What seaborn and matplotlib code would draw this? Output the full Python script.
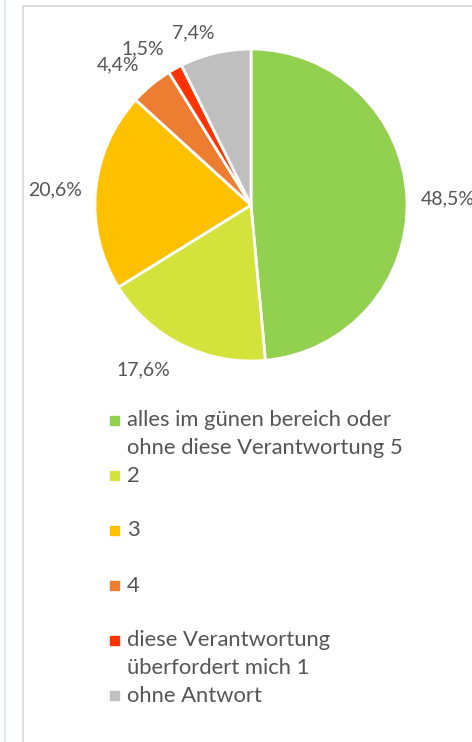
import matplotlib
matplotlib.use("Agg")
import matplotlib.pyplot as plt
import seaborn as sns
import numpy as np
from matplotlib.patches import Rectangle
from matplotlib.lines import Line2D

sns.set_theme(style="white")
plt.rcParams["font.family"] = ["Lato", "DejaVu Sans"]

# Survey answers (respondent counts, n = 68)
categories = [
    ["alles im günen bereich oder", "ohne diese Verantwortung 5"],
    ["2"],
    ["3"],
    ["4"],
    ["diese Verantwortung", "überfordert mich 1"],
    ["ohne Antwort"],
]
counts = [33, 12, 14, 3, 1, 5]
colors = ["#92D050", "#D4E33C", "#FFC000", "#ED7D31", "#FF3300", "#BFBFBF"]
text_color = "#555555"

# outside-end label placement (radius factor, angular nudge in degrees)
label_dist = [1.263, 1.263, 1.257, 1.24, 1.22, 1.163]
label_shift = [-1.0, -6.7, 0.9, 3.9, 5.6, 5.4]

W, H = 472, 742
fig = plt.figure(figsize=(W / 100, H / 100), dpi=100)

# panel frames
fig.add_artist(Line2D([4.5 / W, 4.5 / W], [0, 1], color="#DDE3EE", lw=1.2))
fig.add_artist(Line2D([22.5 / W, 22.5 / W], [0, 1 - 6 / H], color="#D9D9D9", lw=1.2))
fig.add_artist(Line2D([22.5 / W, 1.0], [1 - 6 / H, 1 - 6 / H], color="#D9D9D9", lw=1.2))

# pie axes: centre (251, 205) px, radius 156 px
cx, cy, r = 251, 205, 156
lim = 1.3
half = lim * r
ax = fig.add_axes([(cx - half) / W, (H - cy - half) / H, 2 * half / W, 2 * half / H])

wedges, _, autotexts = ax.pie(
    counts,
    colors=colors,
    startangle=90,
    counterclock=False,
    autopct=lambda p: f"{p:.1f}%".replace(".", ","),
    pctdistance=1.25,
    wedgeprops=dict(edgecolor="white", linewidth=2),
    textprops=dict(color=text_color, fontsize=14),
)
for w, t, d, s in zip(wedges, autotexts, label_dist, label_shift):
    mid = np.deg2rad((w.theta1 + w.theta2) / 2 + s)
    t.set_position((d * np.cos(mid), d * np.sin(mid)))
    t.set_ha("center")
    t.set_va("center")
ax.set_xlim(-lim, lim)
ax.set_ylim(-lim, lim)
ax.set_aspect("equal")
ax.axis("off")

# legend: each entry takes two text lines
line_h = 27.5
y0 = 420.5
mx, tx = 114.5, 127
fs = 15.8
for i, (lines, col) in enumerate(zip(categories, colors)):
    y = y0 + 2 * i * line_h
    fig.add_artist(Rectangle(((mx - 4.5) / W, 1 - (y + 4.5) / H), 9 / W, 9 / H,
                             color=col, transform=fig.transFigure))
    for j, txt in enumerate(lines):
        fig.text(tx / W, 1 - (y + j * line_h) / H, txt, color=text_color,
                 fontsize=fs, va="center", ha="left")

fig.savefig("out.png", dpi=100)
